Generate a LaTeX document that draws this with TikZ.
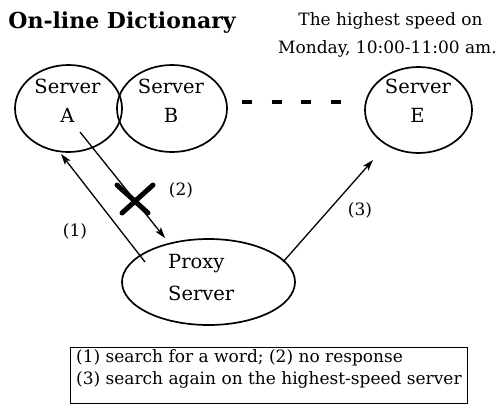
\documentclass[tikz,border=0pt]{standalone}
\usepackage{fontspec}
\setmainfont{DejaVu Serif}
\usetikzlibrary{arrows.meta,shapes.geometric}
\begin{document}
\begin{tikzpicture}[x=1pt,y=-1pt,
  srv/.style={draw, ellipse, line width=1.7pt, inner sep=0pt},
  lbl/.style={anchor=base, inner sep=0pt, font=\fontsize{19.5}{22}\selectfont},
  small/.style={inner sep=0pt, font=\fontsize{17}{22}\selectfont},
  arr/.style={line width=1.3pt, -{Stealth[length=11pt,width=7pt,inset=2.5pt]}},
  cross/.style={line width=5pt, line cap=round}]
\useasboundingbox (0,0) rectangle (502,408);
% title
\node[anchor=base, inner sep=0pt, font=\fontsize{22}{26}\selectfont\bfseries] (title) at (122,28) {On-line Dictionary};
\node[small, anchor=base] (note1) at (390.5,25) {The highest speed on};
\node[small, anchor=base] (note2) at (387.5,53) {Monday, 10:00-11:00 am.};
% servers
\node[srv, minimum width=107pt, minimum height=87pt] (A) at (68.5,108.5) {};
\node[srv, minimum width=110pt, minimum height=87pt] (B) at (172,108.5) {};
\node[srv, minimum width=107pt, minimum height=86pt] (E) at (418.5,110) {};
\node[srv, minimum width=173pt, minimum height=86pt] (P) at (208.5,282) {};
\node[lbl] (A1) at (67.5,93) {Server};
\node[lbl] (A2) at (67.5,122) {A};
\node[lbl] (B1) at (171,93) {Server};
\node[lbl] (B2) at (171,122) {B};
\node[lbl] (E1) at (418,93) {Server};
\node[lbl] (E2) at (417.5,122) {E};
\node[lbl, anchor=base west] (P1) at (168,268) {Proxy};
\node[lbl, anchor=base west] (P2) at (168,300) {Server};
% dashes
\coordinate (d1) at (242,101.5);
\coordinate (d2) at (341,101.5);
\draw[line width=4pt, dash pattern=on 10pt off 19.6pt] (d1) -- (d2);
% arrows
\coordinate (s1) at (145,262);
\coordinate (e1) at (61,154);
\coordinate (s2) at (80,132);
\coordinate (e2) at (165,238);
\coordinate (s3) at (283,262);
\coordinate (e3) at (373,160);
\draw[arr] (s1) -- (e1);
\draw[arr] (s2) -- (e2);
\draw[arr] (s3) -- (e3);
% cross
\coordinate (x1) at (117,185);
\coordinate (x2) at (148,213);
\coordinate (x3) at (153,185);
\coordinate (x4) at (122,213);
\draw[cross] (x1) -- (x2);
\draw[cross] (x3) -- (x4);
% labels
\node[small] (L1) at (75,231) {(1)};
\node[small] (L2) at (181,190) {(2)};
\node[small] (L3) at (360,210) {(3)};
% legend box
\node[draw, line width=0.9pt, minimum width=397pt, minimum height=56pt, inner sep=0pt, anchor=north west] (box) at (70,347) {};
\node[small, anchor=base west] (t1) at (76,362) {(1) search for a word; (2) no response};
\node[small, anchor=base west] (t2) at (76,384) {(3) search again on the highest-speed server};
\end{tikzpicture}
\end{document}
